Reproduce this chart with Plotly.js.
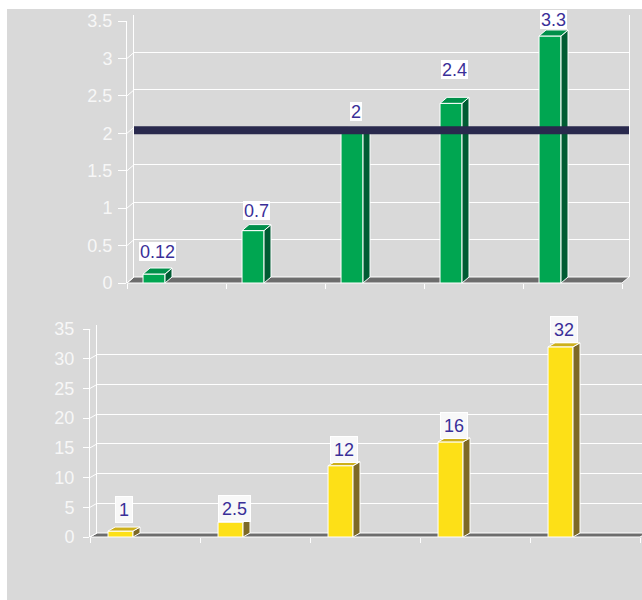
<!DOCTYPE html>
<html><head><meta charset="utf-8">
<script src="https://cdn.plot.ly/plotly-3.0.1.min.js"></script>
<style>
html,body{margin:0;padding:0;background:#fff;width:642px;height:600px;overflow:hidden}
#chart{position:absolute;left:7px;top:9px;width:635px;height:591px}
</style></head>
<body><div id="chart"></div>
<script>
// ---- data ----
const positions = [0, 1, 2, 3, 4];
const topValues = [0.12, 0.7, 2, 2.4, 3.3];
const bottomValues = [1, 2.5, 12, 16, 32];
const topTicks = [0, 0.5, 1, 1.5, 2, 2.5, 3, 3.5];
const bottomTicks = [0, 5, 10, 15, 20, 25, 30, 35];
const referenceValue = 2;
// label nudges (pixels above bar top)
const topLabelLift = [13, 11, 12, 24, 7];
const bottomLabelLift = [8, 0, 3, 3, 4];

// ---- geometry (page pixels) ----
const W = 635, H = 591, OX = 7, OY = 9;
const fx = p => (p - OX) / W;
const fy = p => 1 - (p - OY) / H;

const panels = [
  {name:'top', back:['x','y'], front:['x2','y2'], vals: topValues, ticks: topTicks, max: 3.5,
   fx0:127, fx1:622, fy0:283, fy1:21, dx:7, dy:6, off:-0.338, w:0.222, ticklen:8, standoff:2,
   front_c:'#00a651', side_c:'#005c33', top_c:'#00904a', lift: topLabelLift,
   labelH:17, pad:1, bw:0, bg:'#ffffff'},
  {name:'bottom', back:['x3','y3'], front:['x4','y4'], vals: bottomValues, ticks: bottomTicks, max: 35,
   fx0:90, fx1:640, fy0:537, fy1:329, dx:7, dy:4, off:-0.336, w:0.227, ticklen:6, standoff:5,
   front_c:'#fde017', side_c:'#7d6926', top_c:'#cdb01c', lift: bottomLabelLift,
   labelH:19, pad:3, bw:1, bg:'#f8f8f8'}
];

const data = [];
const shapes = [];
const annotations = [];
const layout = {
  width: W, height: H,
  margin: {l:0, r:0, t:0, b:0},
  paper_bgcolor: '#d9d9d9',
  plot_bgcolor: 'rgba(0,0,0,0)',
  showlegend: false,
  font: {family: 'Liberation Sans, Arial, sans-serif'},
  bargap: 0
};

const tickFont = {family:'Liberation Sans, Arial, sans-serif', size:18, color:'#f7f7f7'};

// back walls first (lower subplot ids are drawn below)
panels.forEach(p => {
  const bx = p.back[0], by = p.back[1];
  const xk = 'xaxis' + bx.slice(1), yk = 'yaxis' + by.slice(1);
  layout[xk] = {domain:[fx(p.fx0 + p.dx), Math.min(1, fx(p.fx1 + p.dx))], range:[0,1],
    showgrid:false, zeroline:false, showticklabels:false, showline:false, anchor: by, fixedrange:true};
  layout[yk] = {domain:[fy(p.fy0 - p.dy), fy(p.fy1 - p.dy)], range:[0, p.max],
    tickmode:'array', tickvals:p.ticks, showticklabels:false, ticks:'',
    showgrid:true, gridcolor:'#ffffff', gridwidth:1.2, zeroline:false,
    showline:true, linecolor:'#ffffff', linewidth:1.2, mirror: p.name === 'top',
    anchor: bx, fixedrange:true};
  data.push({type:'scatter', x:[0.5], y:[0], xaxis:bx, yaxis:by, mode:'markers',
    marker:{opacity:0}, hoverinfo:'skip'});
});

panels.forEach(p => {
  const bx = p.front[0], by = p.front[1];
  const xk = 'xaxis' + bx.slice(1), yk = 'yaxis' + by.slice(1);
  const bandPx = (p.fx1 - p.fx0) / positions.length;
  const unitPx = (p.fy0 - p.fy1) / p.max;
  const dyD = p.dy / unitPx;
  layout[xk] = {domain:[fx(p.fx0), fx(p.fx1)], range:[-0.5, positions.length - 0.5],
    tickmode:'array', tickvals: positions.map(v => v - 0.5).concat([positions.length - 0.5]),
    ticktext: positions.map(() => '').concat(['']),
    ticks:'outside', ticklen:5, tickcolor:'#ffffff', tickwidth:1,
    showgrid:false, zeroline:false, showline:false, anchor: by, fixedrange:true};
  layout[yk] = {domain:[fy(p.fy0), fy(p.fy1)], range:[0, p.max],
    tickmode:'array', tickvals:p.ticks, ticktext:p.ticks.map(String),
    ticks:'outside', ticklen:p.ticklen, tickcolor:'#ffffff', tickwidth:1,
    ticklabelstandoff: p.standoff,
    tickfont: tickFont, showgrid:false, zeroline:false,
    showline:true, linecolor:'#ffffff', linewidth:1, anchor: bx, fixedrange:true};

  // floor
  shapes.push({type:'path', xref:'paper', yref:'paper', layer:'below',
    path:`M${fx(p.fx0)},${fy(p.fy0)} L${fx(p.fx1)},${fy(p.fy0)} L${fx(p.fx1 + p.dx)},${fy(p.fy0 - p.dy)} L${fx(p.fx0 + p.dx)},${fy(p.fy0 - p.dy)} Z`,
    fillcolor:'#6d6d6d', line:{color:'#ffffff', width:1}});

  // front faces: real bars
  data.push({type:'bar', x: positions, y: p.vals, xaxis:bx, yaxis:by,
    offset: p.off, width: p.w,
    marker:{color:p.front_c, line:{color:'#ffffff', width:1}}, hoverinfo:'y'});

  const wPx = p.w * bandPx;
  p.vals.forEach((v, i) => {
    const left = positions[i] + p.off;
    const right = left + p.w;
    // side face
    shapes.push({type:'path', xref:bx, yref:by, xsizemode:'pixel', xanchor:right,
      path:`M0,0 L${p.dx},${dyD} L${p.dx},${v + dyD} L0,${v} Z`,
      fillcolor:p.side_c, line:{color:'#ffffff', width:1}});
    // top face
    shapes.push({type:'path', xref:bx, yref:by, xsizemode:'pixel', xanchor:left,
      path:`M0,${v} L${wPx},${v} L${wPx + p.dx},${v + dyD} L${p.dx},${v + dyD} Z`,
      fillcolor:p.top_c, line:{color:'#ffffff', width:1}});
    // value label
    annotations.push({xref:bx, yref:by, x: left + (wPx + p.dx) / 2 / bandPx, y: v,
      xanchor:'center', yanchor:'bottom', yshift: p.lift[i], showarrow:false,
      text: String(v), height: p.labelH, borderpad: p.pad, borderwidth: p.bw,
      bordercolor:'#ffffff', bgcolor: p.bg,
      font:{family:'Liberation Sans, Arial, sans-serif', size:18, color:'#3a2f98'}});
  });

  // tick connectors from the front axis to the back wall
  p.ticks.forEach(t => {
    shapes.push({type:'line', xref:'paper', yref:by, x0:fx(p.fx0), x1:fx(p.fx0 + p.dx),
      y0:t, y1:t + dyD, line:{color:'#ffffff', width:1}});
  });

  if (p.name === 'top') {
    shapes.push({type:'line', xref:'x domain', yref:by, x0:0, x1:1,
      y0: referenceValue + dyD / 2, y1: referenceValue + dyD / 2,
      line:{color:'#29294d', width:8}});
  }
});

layout.shapes = shapes;
layout.annotations = annotations;
Plotly.newPlot('chart', data, layout, {staticPlot:true, displayModeBar:false});
</script>
</body></html>
